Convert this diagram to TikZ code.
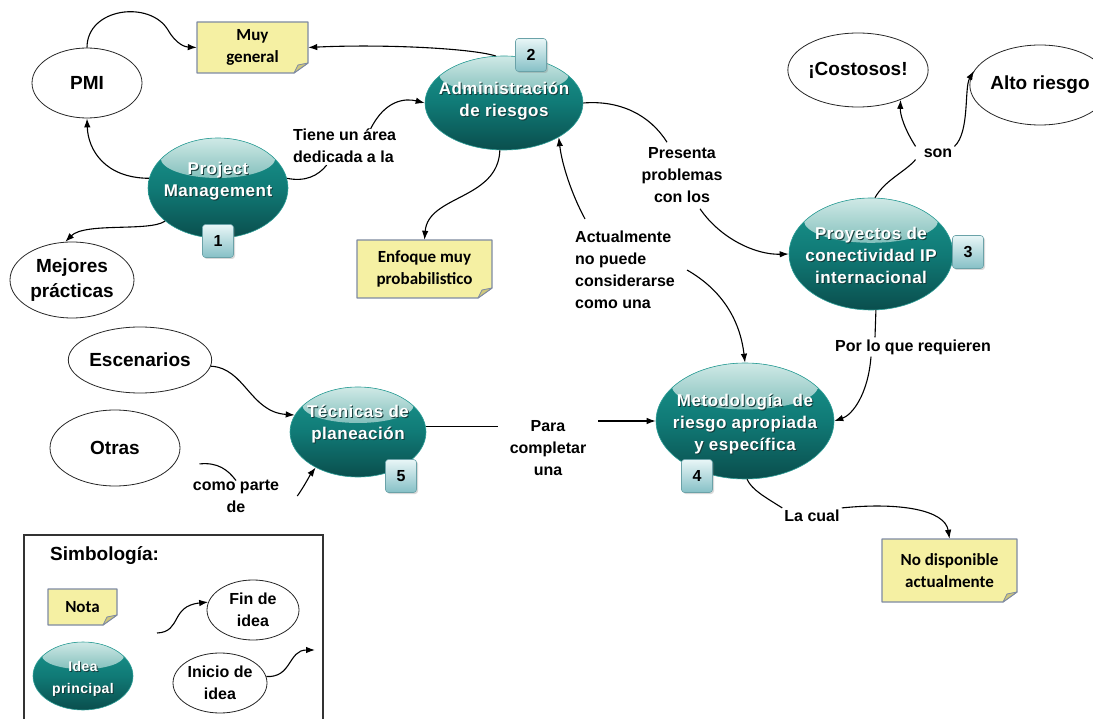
\documentclass[tikz,border=0pt]{standalone}
\usepackage{fontspec}
\setmainfont{Liberation Sans}
\newfontfamily\ideafont[LetterSpace=3]{Liberation Sans}
\newfontfamily\notefont{Carlito}
\usetikzlibrary{shapes.geometric,arrows.meta,shadows,calc}

\definecolor{tealtop}{HTML}{1A968E}
\definecolor{tealmid}{HTML}{107A76}
\definecolor{tealbot}{HTML}{0A4E4D}
\definecolor{gloss}{HTML}{CFE9E6}
\definecolor{tealrim}{HTML}{2E9E97}
\definecolor{textshade}{HTML}{163C3B}
\definecolor{notefill}{HTML}{F5F0A3}
\definecolor{noteline}{HTML}{7E8AA3}
\definecolor{notefold}{HTML}{CFC77C}
\definecolor{badgetop}{HTML}{E8F6F7}
\definecolor{badgebot}{HTML}{86C0C6}
\definecolor{badgeline}{HTML}{6AA2A8}

\tikzset{
  lbl/.style={font=\bfseries\fontsize{16}{22}\selectfont, inner sep=2pt, align=center},
  outl/.style={ellipse, draw=black!85, line width=0.8pt, fill=white, inner sep=0pt,
    font=\bfseries\fontsize{19}{25}\selectfont, align=center},
  ideashape/.style={ellipse, draw=tealrim, line width=0.6pt, inner sep=0pt,
    top color=tealtop, bottom color=tealbot, middle color=tealmid},
  ideatext/.style={font=\ideafont\bfseries\fontsize{17}{22}\selectfont, text=white,
    align=center, inner sep=0pt},
  notetext/.style={font=\notefont\bfseries\fontsize{17}{22}\selectfont, align=center, inner sep=0pt},
  notepaper/.style={fill=notefill, draw=noteline, line width=1.2pt, line join=round},
  notefoldst/.style={fill=notefold, draw=noteline, line width=0.8pt, line join=round},
  badge/.style={rounded corners=3pt, draw=badgeline, line width=0.6pt,
    top color=badgetop, bottom color=badgebot, minimum width=31pt, minimum height=33pt,
    font=\bfseries\fontsize{16}{16}\selectfont, inner sep=0pt,
    drop shadow={opacity=0.3, shadow xshift=1.5pt, shadow yshift=-1.5pt}},
  wire/.style={draw=black, line width=1.1pt},
  arrowwire/.style={wire, -{Latex[length=9pt,width=6.5pt]}},
  legendbox/.style={draw=black!80, line width=1.6pt},
}

% glossy teal idea: name, cx, cy, rx, ry, text, vertical text offset
\newcommand\IdeaNode[7]{%
  \node[ideashape, minimum width={2*#4pt}, minimum height={2*#5pt},
    path picture={\shade[top color=gloss, middle color=tealtop!55!gloss, bottom color=tealmid!70!tealtop]
      ([yshift={-0.40*#5pt}]path picture bounding box.north)
      ellipse [x radius={0.82*#4pt}, y radius={0.40*#5pt}];}]
    (#1) at (#2,#3) {};
  \node[ideatext, text=textshade] (#1-shadow) at ([xshift=1pt,yshift=-1.2pt]#2,{#3+(#7)}) {#6};
  \node[ideatext] (#1-label) at (#2,{#3+(#7)}) {#6};
}

% sticky note with folded corner: name, left, top, right, bottom, text
\newcommand\NoteNode[6]{%
  \path[notepaper] (#2,#3) -- (#4,#3) -- (#4,#5-10) -- (#4-14,#5) -- (#2,#5) -- cycle;
  \path[notefoldst] (#4,#5-10) -- (#4-14,#5) -- (#4-10,#5-8) -- cycle;
  \node[notetext, minimum width={(#4-#2)*1pt}, minimum height={(#5-#3)*1pt}]
    (#1) at ({(#2+#4)/2},{(#3+#5)/2}) {#6};
}

\begin{document}
\begin{tikzpicture}[x=1pt,y=-1pt]
\useasboundingbox (0,0) rectangle (1093,719);

% main ideas
\IdeaNode{pm}{218}{188}{70}{50}{Project\\Management}{-7}
\IdeaNode{adm}{504}{103}{79}{47}{Administración\\de riesgos}{-2}
\IdeaNode{proy}{871}{254}{82}{56}{Proyectos de\\conectividad IP\\internacional}{1}
\IdeaNode{met}{745}{421}{89}{58}{Metodología \ de\\riesgo apropiada\\y específica}{3}
\IdeaNode{tec}{358}{432}{68}{45}{Técnicas de\\planeación}{-8}

% end ideas
\node[outl, minimum width=110pt, minimum height=70pt] (pmi) at (87,83) {PMI};
\node[outl, minimum width=124pt, minimum height=76pt] (mej) at (72,280) {Mejores\\prácticas};
\node[outl, minimum width=110pt, minimum height=74pt] (cost) at (858,70) {¡Costosos!};
\node[outl, minimum width=112pt, minimum height=80pt] (alto) at (1040,85) {Alto riesgo};
\node[outl, minimum width=134pt, minimum height=66pt] (esc) at (140,360) {Escenarios};
\node[outl, minimum width=130pt, minimum height=76pt] (otras) at (115,448) {Otras};

% notes
\NoteNode{mg}{197}{22}{308}{73}{Muy\\general}
\NoteNode{enf}{357}{240}{492}{298}{Enfoque muy\\probabilistico}
\NoteNode{nodisp}{882}{539}{1017}{602}{No disponible\\actualmente}

% linking phrases
\node[lbl, align=left, anchor=west] (tiene) at (291,146) {Tiene un área\\dedicada a la};
\node[lbl] (pres) at (682,175) {Presenta\\problemas\\con los};
\node[lbl, align=left, anchor=west] (actual) at (573,270) {Actualmente\\no puede\\considerarse\\como una};
\node[lbl] (son) at (938,153) {son};
\node[lbl] (porlo) at (913,347) {Por lo que requieren};
\node[lbl, inner xsep=12pt] (para) at (548,448) {Para\\completar\\una};
\node[lbl] (como) at (236,496) {como parte\\de};
\node[lbl] (lacual) at (812,516) {La cual};

% connectors
\draw[arrowwire] (pmi.north) .. controls +(0,-40) and (150,0) .. (168,30)
  .. controls (176,44) and (185,47) .. (mg.west);
\draw[arrowwire] (pm.172) .. controls (105,178) and (88,150) .. (pmi.south);
\draw[arrowwire] (pm.212) .. controls (150,232) and (85,222) .. (mej.100);
\draw[wire] (pm.8) .. controls (305,182) and (318,176) .. ([xshift=-18pt]tiene.south);
\draw[arrowwire] ([xshift=26pt,yshift=-2pt]tiene.north) .. controls (385,100) and (405,98) .. (adm.west);
\draw[arrowwire] (adm.100) .. controls (470,48) and (380,44) .. (mg.east);
\draw[arrowwire] (adm.265) .. controls (498,200) and (428,195) .. (enf.north);
\draw[wire] (adm.east) .. controls (620,100) and (650,115) .. ([xshift=-15pt,yshift=3pt]pres.north);
\draw[arrowwire] ([xshift=18pt,yshift=-4pt]pres.south) .. controls (720,238) and (755,255) .. (proy.west);
\draw[arrowwire] ([xshift=12pt,yshift=10pt]actual.north west) .. controls (572,195) and (562,165) .. (adm.-32);
\draw[arrowwire] ([xshift=10pt]actual.east) .. controls (722,290) and (740,320) .. (met.north);
\draw[wire] (proy.86) .. controls (885,180) and (905,172) .. ([xshift=-6pt]son.south west);
\draw[arrowwire] ([xshift=-6pt]son.north west) .. controls (905,130) and (900,115) .. (cost.-35);
\draw[arrowwire] (son.north east) .. controls (970,132) and (964,88) .. (alto.168);
\draw[wire] (proy.-85) -- ([xshift=-38pt]porlo.north);
\draw[arrowwire] ([xshift=-42pt]porlo.south) .. controls (868,395) and (852,415) .. (met.east);
\draw[wire] (tec.5) -- (para.west |- tec.5);
\draw[arrowwire] (para.east |- met.west) -- (met.west);
\draw[arrowwire] (esc.-5) .. controls (245,368) and (250,412) .. (tec.165);
\draw[wire] ([xshift=25pt]otras.-15) .. controls (218,462) and (228,470) .. ([yshift=-3pt]como.north);
\draw[arrowwire] ([xshift=16pt]como.east) .. controls (305,485) and (310,475) .. (tec.220);
\draw[wire] (met.-88) .. controls (752,490) and (765,497) .. (lacual.north west);
\draw[arrowwire] (lacual.north east) .. controls (900,502) and (945,510) .. (nodisp.north);

% number badges
\node[badge] (b1) at (218,241) {1};
\node[badge] (b2) at (531,55) {2};
\node[badge] (b3) at (968,252) {3};
\node[badge] (b4) at (697,476) {4};
\node[badge] (b5) at (401,476) {5};

% legend
\draw[legendbox] (24,535) rectangle (323,735);
\node[font=\bfseries\fontsize{19}{22}\selectfont, anchor=west, inner sep=0pt] (simb) at (50,556) {Simbología:};
\NoteNode{nota}{48}{589}{117}{625}{Nota}
\IdeaNode{leg}{83}{676}{50}{34}{\fontsize{14}{18}\selectfont Idea\\\fontsize{14}{18}\selectfont principal}{3}
\node[outl, minimum width=92pt, minimum height=60pt, font=\bfseries\fontsize{16}{22}\selectfont] (fin) at (253,610) {Fin de\\idea};
\node[outl, minimum width=94pt, minimum height=60pt, font=\bfseries\fontsize{16}{22}\selectfont] (inicio) at (220,683) {Inicio de\\idea};
\coordinate (legin) at (157,633);
\coordinate (legout) at (315,650);
\draw[arrowwire] (legin) .. controls (182,632) and (170,606) .. (fin.170);
\draw[arrowwire] (inicio.8) .. controls (292,678) and (288,650) .. (legout);
\end{tikzpicture}
\end{document}
